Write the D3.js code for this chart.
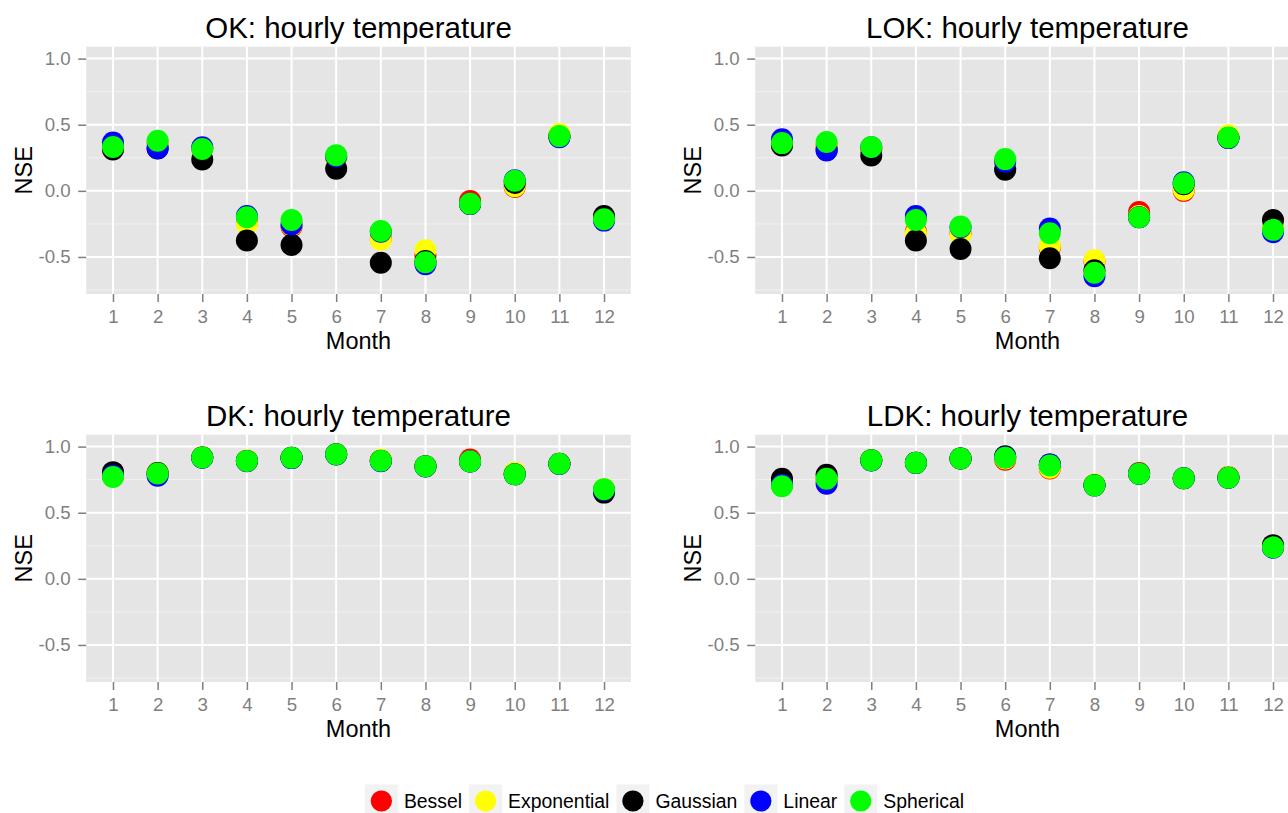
<!DOCTYPE html>
<html>
<head>
<meta charset="utf-8">
<script src="https://cdn.jsdelivr.net/npm/d3@7/dist/d3.min.js"></script>
<style>
  body { margin: 0; background: #fff; }
  svg { display: block; font-family: "Liberation Sans", Arial, Helvetica, sans-serif; }
  .tick text { fill: #7f7f7f; font-size: 18.7px; }
  .tick line { stroke: #7f7f7f; stroke-width: 1.5; }
</style>
</head>
<body>
<div id="chart"></div>
<script>
// months on the x axis
const months = [1, 2, 3, 4, 5, 6, 7, 8, 9, 10, 11, 12];
const models = ["Bessel", "Exponential", "Gaussian", "Linear", "Spherical"];
const modelColors = ["#ff0000", "#ffff00", "#000000", "#0000ff", "#00ff00"];
const yTickValues = [-0.5, 0, 0.5, 1.0];
const yMinorValues = [-0.75, -0.25, 0.25, 0.75];
const panelTitles = ["OK: hourly temperature", "LOK: hourly temperature",
                     "DK: hourly temperature", "LDK: hourly temperature"];

// NSE per model, one value per month
const okBessel      = [0.33, 0.36, 0.32, -0.24, -0.27, 0.25, -0.36, -0.49, -0.076, 0.03, 0.42, -0.21];
const okExponential = [0.33, 0.36, 0.32, -0.25, -0.26, 0.24, -0.37, -0.45, -0.10, 0.035, 0.43, -0.21];
const okGaussian    = [0.313, 0.32, 0.237, -0.376, -0.41, 0.167, -0.543, -0.53, -0.10, 0.06, 0.41, -0.19];
const okLinear      = [0.366, 0.323, 0.33, -0.19, -0.255, 0.26, -0.31, -0.555, -0.10, 0.08, 0.405, -0.225];
const okSpherical   = [0.331, 0.379, 0.316, -0.20, -0.22, 0.27, -0.303, -0.54, -0.098, 0.076, 0.414, -0.215];

const lokBessel      = [0.35, 0.34, 0.31, -0.31, -0.32, 0.17, -0.43, -0.53, -0.16, 0.00, 0.41, -0.28];
const lokExponential = [0.35, 0.35, 0.32, -0.32, -0.33, 0.19, -0.42, -0.525, -0.19, 0.008, 0.42, -0.28];
const lokGaussian    = [0.343, 0.31, 0.268, -0.376, -0.44, 0.16, -0.51, -0.60, -0.20, 0.05, 0.40, -0.22];
const lokLinear      = [0.39, 0.305, 0.33, -0.19, -0.275, 0.22, -0.285, -0.646, -0.20, 0.065, 0.40, -0.313];
const lokSpherical   = [0.361, 0.369, 0.331, -0.22, -0.27, 0.24, -0.32, -0.62, -0.20, 0.058, 0.404, -0.295];

const dkBessel      = [0.78, 0.80, 0.92, 0.893, 0.915, 0.942, 0.895, 0.852, 0.902, 0.80, 0.87, 0.67];
const dkExponential = [0.78, 0.80, 0.92, 0.895, 0.915, 0.942, 0.90, 0.852, 0.89, 0.805, 0.87, 0.68];
const dkGaussian    = [0.807, 0.80, 0.917, 0.892, 0.915, 0.942, 0.893, 0.852, 0.887, 0.79, 0.87, 0.652];
const dkLinear      = [0.78, 0.78, 0.915, 0.89, 0.913, 0.94, 0.89, 0.85, 0.887, 0.79, 0.868, 0.672];
const dkSpherical   = [0.77, 0.797, 0.917, 0.892, 0.915, 0.942, 0.893, 0.852, 0.887, 0.79, 0.87, 0.677];

const ldkBessel      = [0.71, 0.75, 0.897, 0.877, 0.91, 0.90, 0.834, 0.71, 0.80, 0.76, 0.77, 0.24];
const ldkExponential = [0.71, 0.75, 0.897, 0.877, 0.91, 0.91, 0.84, 0.715, 0.795, 0.76, 0.77, 0.24];
const ldkGaussian    = [0.757, 0.787, 0.897, 0.877, 0.91, 0.927, 0.865, 0.707, 0.795, 0.76, 0.765, 0.255];
const ldkLinear      = [0.71, 0.72, 0.895, 0.877, 0.91, 0.92, 0.865, 0.707, 0.795, 0.76, 0.765, 0.235];
const ldkSpherical   = [0.70, 0.757, 0.897, 0.877, 0.91, 0.915, 0.857, 0.707, 0.795, 0.76, 0.765, 0.238];

const panelSeries = [
    [okBessel, okExponential, okGaussian, okLinear, okSpherical],
    [lokBessel, lokExponential, lokGaussian, lokLinear, lokSpherical],
    [dkBessel, dkExponential, dkGaussian, dkLinear, dkSpherical],
    [ldkBessel, ldkExponential, ldkGaussian, ldkLinear, ldkSpherical]
];

const totalWidth = 1288, totalHeight = 813;
const panelWidth = 544.6, panelHeight = 247.3;
const panelLefts = [86.2, 755.2];
const panelTops = [46.7, 434.7];

const svg = d3.select("#chart").append("svg")
    .attr("width", totalWidth)
    .attr("height", totalHeight);

const x = d3.scalePoint().domain(months).range([0, panelWidth]).padding(0.6);
const y = d3.scaleLinear().domain([-0.78, 1.09]).range([panelHeight, 0]);

const color = d3.scaleOrdinal().domain(models).range(modelColors);

// plain hyphen for negatives, like the original
const fmt = d3.formatLocale({ decimal: ".", thousands: ",", grouping: [3], currency: ["", ""], minus: "-" }).format(".1f");

function drawPanel(index) {
    const left = panelLefts[index % 2];
    const top = panelTops[Math.floor(index / 2)];
    const g = svg.append("g").attr("transform", "translate(" + left + "," + top + ")");

    // panel background and grid
    g.append("rect")
        .attr("width", panelWidth)
        .attr("height", panelHeight)
        .attr("fill", "#e5e5e5");

    g.selectAll(".minor").data(yMinorValues).enter().append("line")
        .attr("x1", 0).attr("x2", panelWidth)
        .attr("y1", d => y(d)).attr("y2", d => y(d))
        .attr("stroke", "#f2f2f2").attr("stroke-width", 1);

    g.selectAll(".hgrid").data(yTickValues).enter().append("line")
        .attr("x1", 0).attr("x2", panelWidth)
        .attr("y1", d => y(d)).attr("y2", d => y(d))
        .attr("stroke", "#fff").attr("stroke-width", 2);

    g.selectAll(".vgrid").data(months).enter().append("line")
        .attr("x1", d => x(d)).attr("x2", d => x(d))
        .attr("y1", 0).attr("y2", panelHeight)
        .attr("stroke", "#fff").attr("stroke-width", 2);

    // axes
    const yAxis = g.append("g")
        .call(d3.axisLeft(y).tickValues(yTickValues).tickFormat(fmt).tickSize(8).tickPadding(7.5));
    yAxis.select(".domain").remove();

    const xAxis = g.append("g")
        .attr("transform", "translate(0," + panelHeight + ")")
        .call(d3.axisBottom(x).tickSize(8).tickPadding(8));
    xAxis.select(".domain").remove();
    xAxis.selectAll("text").attr("dy", "0.72em");
    svg.selectAll(".tick text").attr("font-family", null);

    // titles
    g.append("text")
        .attr("x", panelWidth / 2).attr("y", -8.4)
        .attr("text-anchor", "middle")
        .attr("font-size", 29.5)
        .text(panelTitles[index]);

    g.append("text")
        .attr("x", panelWidth / 2).attr("y", panelHeight + 55)
        .attr("text-anchor", "middle")
        .attr("font-size", 23.5)
        .text("Month");

    g.append("text")
        .attr("transform", "translate(-54," + panelHeight / 2 + ") rotate(-90)")
        .attr("text-anchor", "middle")
        .attr("font-size", 23.5)
        .text("NSE");

    // points, drawn in model order so Spherical sits on top
    const series = panelSeries[index];
    models.forEach((m, i) => {
        g.append("g").selectAll("circle")
            .data(series[i].map((v, j) => ({ month: months[j], value: v })))
            .enter().append("circle")
            .attr("cx", d => x(d.month))
            .attr("cy", d => y(d.value))
            .attr("r", 11)
            .attr("fill", color(m));
    });
}

for (let i = 0; i < 4; i++) drawPanel(i);

// legend along the bottom
const legend = svg.append("g");
const items = legend.selectAll("g").data(models).enter().append("g");
items.append("rect")
    .attr("width", 33).attr("height", 33)
    .attr("y", 784.5)
    .attr("fill", "#f2f2f2");
items.append("circle")
    .attr("cx", 16.5).attr("cy", 801)
    .attr("r", 10.6)
    .attr("fill", d => color(d));
items.append("text")
    .attr("x", 39).attr("y", 808)
    .attr("font-size", 19.4)
    .text(d => d);

let cursor = 0;
const offsets = [];
items.each(function () {
    offsets.push(cursor);
    const w = d3.select(this).select("text").node().getComputedTextLength();
    cursor += 39 + w + 7;
});
const legendWidth = cursor - 7;
const legendLeft = 664.5 - legendWidth / 2;
items.attr("transform", (d, i) => "translate(" + (legendLeft + offsets[i]) + ",0)");
</script>
</body>
</html>
